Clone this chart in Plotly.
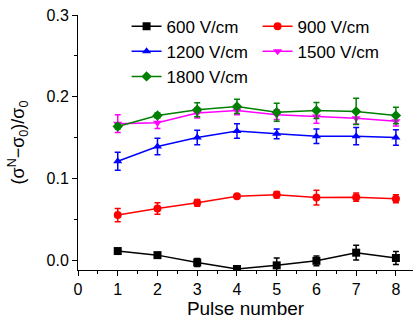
import plotly.graph_objects as go

pulses = [1, 2, 3, 4, 5, 6, 7, 8]

names = ["600 V/cm", "900 V/cm", "1200 V/cm", "1500 V/cm", "1800 V/cm"]

v600 = [0.011, 0.006, -0.003, -0.011, -0.0065, -0.001, 0.009, 0.0025]
e600 = [0.002, 0.002, 0.005, 0.002, 0.009, 0.006, 0.009, 0.008]

v900 = [0.055, 0.063, 0.070, 0.078, 0.080, 0.0765, 0.077, 0.075]
e900 = [0.008, 0.007, 0.004, 0.002, 0.004, 0.009, 0.005, 0.005]

v1200 = [0.121, 0.139, 0.150, 0.158, 0.1545, 0.1516, 0.1516, 0.150]
e1200 = [0.011, 0.010, 0.009, 0.009, 0.006, 0.0088, 0.0106, 0.0096]

v1500 = [0.167, 0.168, 0.180, 0.183, 0.178, 0.1756, 0.1736, 0.170]
e1500 = [0.011, 0.007, 0.006, 0.005, 0.006, 0.008, 0.007, 0.006]

v1800 = [0.1634, 0.177, 0.184, 0.188, 0.181, 0.183, 0.182, 0.177]
e1800 = [0.003, 0.003, 0.0087, 0.0087, 0.011, 0.0098, 0.016, 0.010]

values = [v600, v900, v1200, v1500, v1800]
errors = [e600, e900, e1200, e1500, e1800]
colors = ["#000000", "#ff0000", "#0000ff", "#ff00ff", "#008000"]
symbols = ["square", "circle", "triangle-up", "triangle-down", "diamond"]

fig = go.Figure()
for n, v, e, c, s in zip(names, values, errors, colors, symbols):
    fig.add_trace(go.Scatter(
        x=pulses, y=v, name=n, mode="lines+markers",
        line=dict(color=c, width=1.5),
        marker=dict(color=c, symbol=s, size=8),
        error_y=dict(type="data", array=e, visible=True, color=c, thickness=1.5, width=3),
    ))

fig.update_layout(
    width=413, height=326,
    margin=dict(l=78, r=0, t=15, b=56),
    paper_bgcolor="white", plot_bgcolor="white",
    font=dict(family="Liberation Sans, Arial, sans-serif", color="black", size=16),
    legend=dict(
        orientation="h", x=0.145, y=1.025, xanchor="left", yanchor="top",
        entrywidth=86, entrywidthmode="pixels",
        font=dict(size=17), bgcolor="rgba(0,0,0,0)",
        tracegroupgap=0,
    ),
    xaxis=dict(
        range=[0, 8.43], dtick=1, tick0=0, showgrid=False, zeroline=False,
        showline=True, linecolor="black", linewidth=1,
        ticks="outside", ticklen=5, tickcolor="black",
        minor=dict(dtick=0.5, ticks="outside", ticklen=3, tickcolor="black"),
        title=dict(text="Pulse number", font=dict(size=19), standoff=3),
        tickfont=dict(size=16),
    ),
    yaxis=dict(
        range=[-0.0122, 0.3], tickvals=[0, 0.1, 0.2, 0.3], tickformat=".1f",
        showgrid=False, zeroline=False,
        showline=True, linecolor="black", linewidth=1,
        ticks="outside", ticklen=5, tickcolor="black",
        minor=dict(tickvals=[0.05, 0.15, 0.25], ticks="outside", ticklen=3, tickcolor="black"),
        title=dict(text="(σ<sup>N</sup>−σ<sub>0</sub>)/σ<sub>0</sub>", font=dict(size=18), standoff=17),
        tickfont=dict(size=16),
    ),
)

fig.write_html("out.html")
